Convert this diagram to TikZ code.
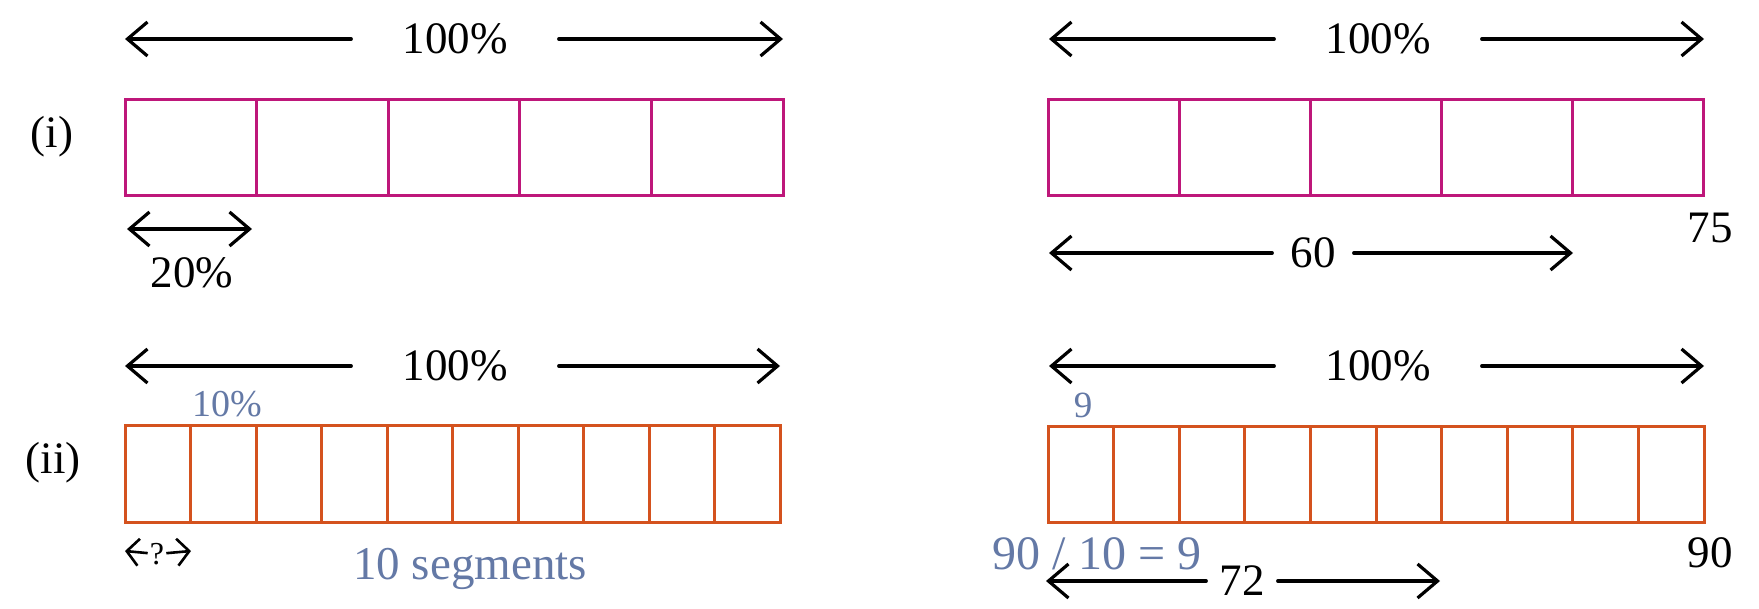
\documentclass[tikz,border=0pt]{standalone}
\usepackage{fontspec}
\setmainfont{Liberation Serif}
\usetikzlibrary{arrows.meta}
\definecolor{mag}{HTML}{BE177A}
\definecolor{org}{HTML}{D4521E}
\definecolor{blu}{HTML}{6479A6}
\begin{document}
\begin{tikzpicture}[x=1pt,y=-1pt,
  barb/.tip={Straight Barb[length=20pt,width=34pt]},
  sbarb/.tip={Straight Barb[length=12pt,width=27pt]},
  arr/.style={line width=3.2pt,line cap=round},
  txt/.style={font=\fontsize{45}{54}\selectfont,inner ysep=0pt,text=black},
  bluetxt/.style={text=blu,inner sep=0pt,anchor=base},
  magbox/.style={draw=mag,line width=3pt},
  orgbox/.style={draw=org,line width=3pt}]
\useasboundingbox (0,0) rectangle (1759,608);
\fill[white] (0,0) rectangle (1759,608);

% ---- boxes ----
\draw[magbox] (125,99) rectangle (783,195);
\foreach \i in {1,...,4} \draw[magbox] ({125+\i*131.6},99) -- ({125+\i*131.6},195);
\draw[magbox] (1048,99) rectangle (1703,195);
\foreach \i in {1,...,4} \draw[magbox] ({1048+\i*131},99) -- ({1048+\i*131},195);
\draw[orgbox] (125,425) rectangle (780,522);
\foreach \i in {1,...,9} \draw[orgbox] ({125+\i*65.5},425) -- ({125+\i*65.5},522);
\draw[orgbox] (1048,426) rectangle (1704,522);
\foreach \i in {1,...,9} \draw[orgbox] ({1048+\i*65.6},426) -- ({1048+\i*65.6},522);

% ---- row labels ----
\node[txt,inner sep=0pt] (ri) at (52,137) {(i)};
\node[txt,inner sep=0pt] (rii) at (53,463) {(ii)};

% ---- 100% arrows ----
\coordinate (A1l) at (125,39);  \coordinate (A1r) at (783,39);
\node[txt,inner xsep=51pt] (L1) at (455,39) {100\%};
\draw[arr,-barb] (L1) -- (A1l);
\draw[arr,-barb] (L1) -- (A1r);

\coordinate (A2l) at (1049,39); \coordinate (A2r) at (1704,39);
\node[txt,inner xsep=51pt] (L2) at (1378,39) {100\%};
\draw[arr,-barb] (L2) -- (A2l);
\draw[arr,-barb] (L2) -- (A2r);

\coordinate (A3l) at (125,366); \coordinate (A3r) at (780,366);
\node[txt,inner xsep=51pt] (L3) at (455,366) {100\%};
\draw[arr,-barb] (L3) -- (A3l);
\draw[arr,-barb] (L3) -- (A3r);

\coordinate (A4l) at (1049,366); \coordinate (A4r) at (1704,366);
\node[txt,inner xsep=51pt] (L4) at (1378,366) {100\%};
\draw[arr,-barb] (L4) -- (A4l);
\draw[arr,-barb] (L4) -- (A4r);

% ---- 20% ----
\coordinate (S1a) at (127,229); \coordinate (S1b) at (252,229);
\draw[arr,barb-barb] (S1a) -- (S1b);
\node[txt,inner sep=0pt,anchor=base] (t20) at (192,287) {20\%};

% ---- 60 ----
\coordinate (B1l) at (1049,253); \coordinate (B1r) at (1573,253);
\node[txt,inner xsep=18pt] (L60) at (1313,253) {60};
\draw[arr,-barb] (L60) -- (B1l);
\draw[arr,-barb] (L60) -- (B1r);
\node[txt,inner sep=0pt,anchor=base] (t75) at (1710,242) {75};

% ---- ? ----
\coordinate (Q1) at (125,551); \coordinate (Q2) at (191,551);
\node[font=\fontsize{32}{36}\selectfont,inner xsep=2pt,inner ysep=0pt] (Qm) at (157,554) {?};
\draw[line width=2.6pt,-sbarb] (Qm) -- (Q1);
\draw[line width=2.6pt,-sbarb] (Qm) -- (Q2);

% ---- 72 ----
\coordinate (B2l) at (1046,581); \coordinate (B2r) at (1440,581);
\node[txt,inner xsep=13pt] (L72) at (1242,581) {72};
\draw[arr,-barb] (L72) -- (B2l);
\draw[arr,-barb] (L72) -- (B2r);
\node[txt,inner sep=0pt,anchor=base] (t90) at (1710,567) {90};

% ---- blue annotations ----
\node[bluetxt,font=\fontsize{38}{44}\selectfont] (b10) at (227,416) {10\%};
\node[bluetxt,font=\fontsize{37}{44}\selectfont] (b9) at (1083,417) {9};
\node[bluetxt,font=\fontsize{47}{56}\selectfont] (bseg) at (470,579) {10 segments};
\node[bluetxt,font=\fontsize{48}{56}\selectfont] (bdiv) at (1097,569) {90 / 10 = 9};
\end{tikzpicture}
\end{document}
